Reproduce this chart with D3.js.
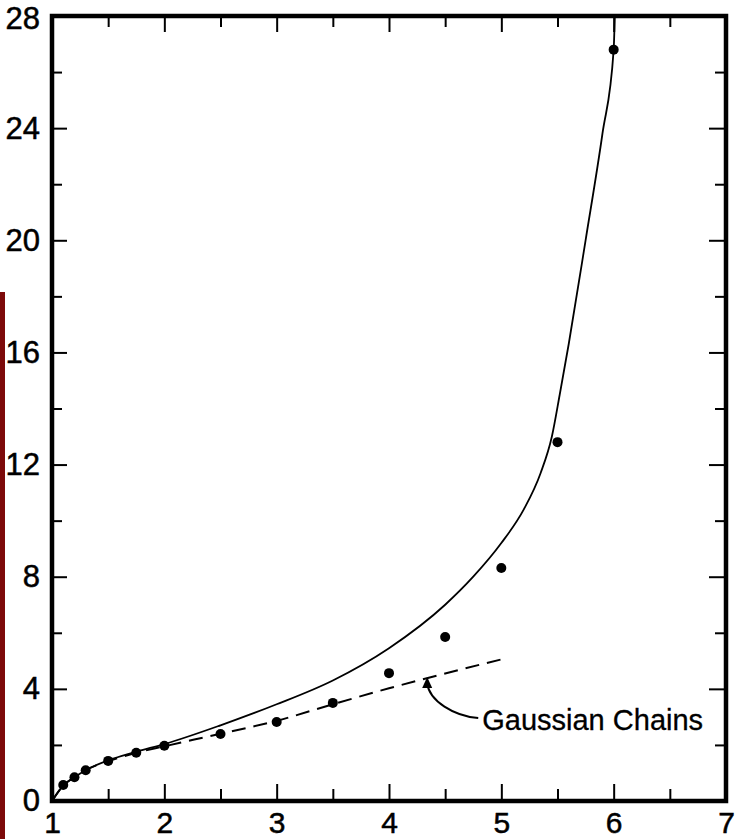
<!DOCTYPE html>
<html>
<head>
<meta charset="utf-8">
<script src="https://cdn.jsdelivr.net/npm/d3@7"></script>
<style>
  html, body { margin: 0; padding: 0; background: #fff; }
  svg { display: block; }
  text { font-family: "Liberation Sans", Arial, Helvetica, sans-serif; fill: #000; }
</style>
</head>
<body>
<script>
// Extension ratio (lambda) and reduced stress for the measured points
const dotLambda = [1.1, 1.2, 1.3, 1.5, 1.75, 2.0, 2.5, 3.0, 3.5, 4.0, 4.5, 5.0, 5.5, 6.0];
const dotStress = [0.57, 0.85, 1.1, 1.43, 1.72, 1.97, 2.39, 2.82, 3.5, 4.56, 5.85, 8.31, 12.8, 26.8];

// Non-Gaussian (finite extensibility) curve
const curveLambda = [1.0, 1.1, 1.2, 1.3, 1.5, 1.75, 2.0, 2.5, 3.0, 3.5, 4.0, 4.5, 4.75, 5.0, 5.2, 5.35, 5.45, 5.52, 5.6, 5.75, 5.9, 6.0, 6.01];
const curveStress = [0.0, 0.55, 0.85, 1.1, 1.45, 1.76, 2.03, 2.7, 3.45, 4.3, 5.45, 7.0, 8.0, 9.2, 10.4, 11.7, 13.0, 14.5, 16.3, 20.0, 23.8, 26.8, 28.0];

// Gaussian chain prediction
const gaussLambda = [1.0, 1.1, 1.2, 1.3, 1.5, 1.75, 2.0, 2.5, 3.0, 3.5, 4.0, 4.5, 5.05];
const gaussStress = [0.0, 0.55, 0.85, 1.1, 1.42, 1.72, 1.95, 2.4, 2.86, 3.45, 4.02, 4.55, 5.1];

// Tick values
const xMajor = [1, 2, 3, 4, 5, 6, 7];
const xMinor = [1.5, 2.5, 3.5, 4.5, 5.5, 6.5];
const yMajor = [0, 4, 8, 12, 16, 20, 24, 28];
const yMinor = [2, 6, 10, 14, 18, 22, 26];

const W = 735, H = 839;
const svg = d3.select("body").append("svg").attr("width", W).attr("height", H);

const x = d3.scaleLinear().domain([1, 7]).range([52, 726]);
const y = d3.scaleLinear().domain([0, 28]).range([801, 16]);

// binding strip along the left edge
svg.append("rect").attr("x", 0).attr("y", 292).attr("width", 5).attr("height", H - 292)
  .attr("fill", "#7d0a0a");

const xInnerMajor = xMajor.filter(v => v > 1 && v < 7);
const yInnerMajor = yMajor.filter(v => v > 0 && v < 28);

function styleAxis(size) {
  return g => {
    g.select(".domain").remove();
    g.selectAll(".tick line").attr("stroke", "#000").attr("stroke-width", 2);
    g.selectAll("text").attr("font-size", size).attr("fill", "#000")
      .attr("stroke", "#000").attr("stroke-width", 0.5);
  };
}

// bottom axis: labels, major ticks, minor ticks
svg.append("g").attr("transform", `translate(0,${y(0)})`)
  .call(d3.axisBottom(x).tickValues(xMajor).tickSize(0).tickPadding(11).tickFormat(d3.format("d")))
  .call(styleAxis(30));
svg.append("g").attr("transform", `translate(0,${y(0)})`)
  .call(d3.axisBottom(x).tickValues(xInnerMajor).tickSize(-17).tickFormat(""))
  .call(styleAxis(30));
svg.append("g").attr("transform", `translate(0,${y(0)})`)
  .call(d3.axisBottom(x).tickValues(xMinor).tickSize(-12).tickFormat(""))
  .call(styleAxis(30));

// top axis ticks
svg.append("g").attr("transform", `translate(0,${y(28)})`)
  .call(d3.axisTop(x).tickValues(xInnerMajor).tickSize(-16).tickFormat(""))
  .call(styleAxis(30));
svg.append("g").attr("transform", `translate(0,${y(28)})`)
  .call(d3.axisTop(x).tickValues(xMinor).tickSize(-11).tickFormat(""))
  .call(styleAxis(30));

// left axis
const leftLabels = svg.append("g").attr("transform", `translate(${x(1)},0)`)
  .call(d3.axisLeft(y).tickValues(yMajor).tickSize(0).tickPadding(12).tickFormat(d3.format("d")))
  .call(styleAxis(31));
// keep the topmost label inside the page
leftLabels.selectAll(".tick").filter(d => d === 28).select("text").attr("y", 3);
svg.append("g").attr("transform", `translate(${x(1)},0)`)
  .call(d3.axisLeft(y).tickValues(yInnerMajor).tickSize(-15).tickFormat(""))
  .call(styleAxis(31));
svg.append("g").attr("transform", `translate(${x(1)},0)`)
  .call(d3.axisLeft(y).tickValues(yMinor).tickSize(-10).tickFormat(""))
  .call(styleAxis(31));

// right axis ticks
svg.append("g").attr("transform", `translate(${x(7)},0)`)
  .call(d3.axisRight(y).tickValues(yInnerMajor).tickSize(-17).tickFormat(""))
  .call(styleAxis(31));
svg.append("g").attr("transform", `translate(${x(7)},0)`)
  .call(d3.axisRight(y).tickValues(yMinor).tickSize(-11).tickFormat(""))
  .call(styleAxis(31));

// frame
svg.append("rect")
  .attr("x", x(1)).attr("y", y(28))
  .attr("width", x(7) - x(1)).attr("height", y(0) - y(28))
  .attr("fill", "none").attr("stroke", "#000").attr("stroke-width", 4.5);

// Gaussian chains (dashed)
const gaussData = gaussLambda.map((l, i) => [l, gaussStress[i]]);
svg.append("path").datum(gaussData)
  .attr("fill", "none").attr("stroke", "#000").attr("stroke-width", 2)
  .attr("stroke-dasharray", "14,8")
  .attr("d", d3.line().x(d => x(d[0])).y(d => y(d[1])).curve(d3.curveMonotoneX));

// finite-extensibility curve (solid)
const curveData = curveLambda.map((l, i) => [l, curveStress[i]]);
svg.append("path").datum(curveData)
  .attr("fill", "none").attr("stroke", "#000").attr("stroke-width", 1.8)
  .attr("d", d3.line().x(d => x(d[0])).y(d => y(d[1])).curve(d3.curveMonotoneX));

// measured points
svg.append("g").selectAll("circle")
  .data(dotLambda.map((l, i) => [l, dotStress[i]]))
  .join("circle")
  .attr("cx", d => x(d[0])).attr("cy", d => y(d[1])).attr("r", 5)
  .attr("fill", "#000");

// annotation with curved arrow
const label = "Gaussian Chains";
const lx = x(4.83), ly = y(2.53);
svg.append("text").attr("x", lx).attr("y", ly)
  .attr("font-size", 29).attr("stroke", "#000").attr("stroke-width", 0.3).text(label);

const tip = [x(4.34), y(4.42)];
const start = [lx - 4, ly - 12];
svg.append("path")
  .attr("d", `M${start[0]},${start[1]} C${start[0] - 24},${start[1] - 2} ${tip[0] + 2},${tip[1] + 24} ${tip[0]},${tip[1] + 6}`)
  .attr("fill", "none").attr("stroke", "#000").attr("stroke-width", 2);
// arrowhead pointing up to the dashed line
svg.append("path")
  .attr("d", `M${tip[0]},${tip[1]} L${tip[0] - 5},${tip[1] + 11} L${tip[0] + 5},${tip[1] + 11} Z`)
  .attr("fill", "#000");
</script>
</body>
</html>
